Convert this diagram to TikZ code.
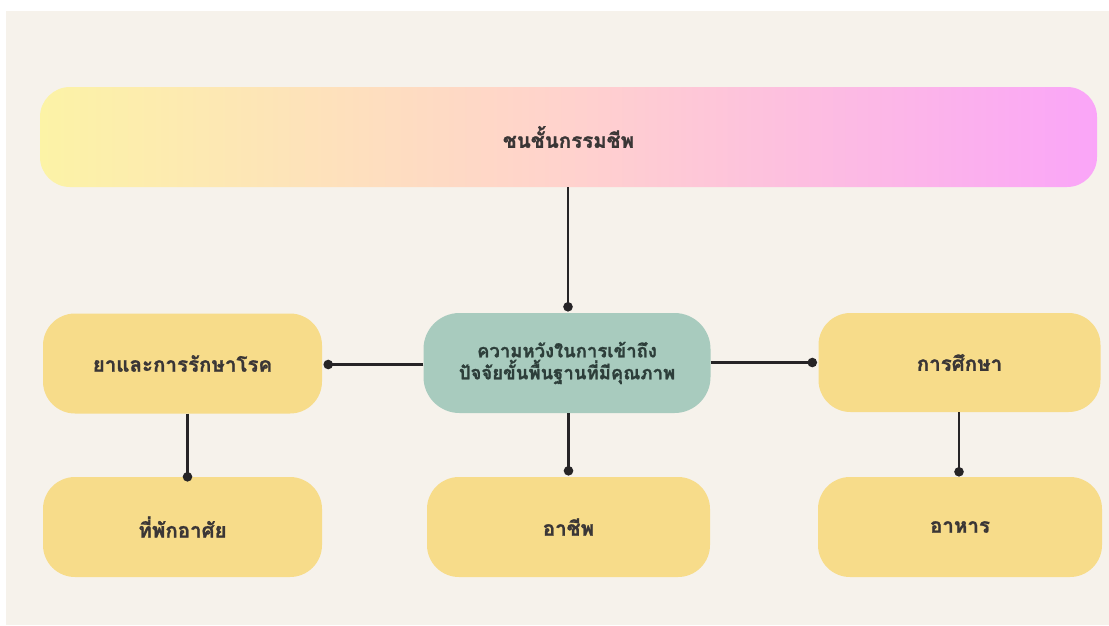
\documentclass[tikz,border=0pt]{standalone}
\usepackage{fontspec}
\newfontfamily\thai[Script=Thai,BoldFeatures={FakeBold=1.2}]{Loma}
\usetikzlibrary{arrows.meta}
\definecolor{cream}{RGB}{246,242,235}
\definecolor{boxyellow}{RGB}{247,220,138}
\definecolor{teal}{RGB}{168,203,190}
\definecolor{txt}{RGB}{58,54,54}
\definecolor{linec}{RGB}{38,36,38}
\definecolor{gleft}{RGB}{252,243,166}
\definecolor{gmid}{RGB}{255,210,205}
\definecolor{gright}{RGB}{250,165,248}
\tikzset{
  boxnode/.style={rounded corners=32pt, minimum width=280pt, minimum height=100pt, fill=boxyellow, font=\thai\bfseries\fontsize{20.5}{24}\selectfont, text=txt, inner sep=0pt},
  conn/.style={draw=linec, line width=2.6pt},
  dotc/.style={fill=linec}
}
\begin{document}
\begin{tikzpicture}[x=1pt,y=-1pt]
\useasboundingbox (0,0) rectangle (1109,625);
\fill[white] (0,0) rectangle (1109,625);
\fill[cream] (6,11) rectangle (1109,625);
\node[rounded corners=30pt, minimum width=1057pt, minimum height=100pt, left color=gleft, right color=gright, middle color=gmid, font=\thai\bfseries\fontsize{20.5}{24}\selectfont, text=txt, inner sep=0pt] (top) at (568.5,137) {ชนชั้นกรรมชีพ};
\node[boxnode, fill=teal, minimum width=287pt, rounded corners=36pt, align=center, font=\thai\bfseries\fontsize{18.5}{22}\selectfont, text={rgb,255:red,45;green,62;blue,58}] (center) at (567,363) {ความหวังในการเข้าถึง\\ปัจจัยขั้นพื้นฐานที่มีคุณภาพ};
\node[boxnode, minimum width=279pt] (l1) at (182.5,363.5) {ยาและการรักษาโรค};
\node[boxnode, minimum width=279pt] (l2) at (182.5,527) {ที่พักอาศัย};
\node[boxnode, minimum width=283pt] (c2) at (568.5,527) {อาชีพ};
\node[boxnode, minimum width=282pt, minimum height=99pt] (r1) at (959.5,362.5) {การศึกษา};
\node[boxnode, minimum width=284pt] (r2) at (960,527) {อาหาร};
\coordinate (dtop) at ([xshift=1pt,yshift=6pt]center.north);
\coordinate (dleft) at ([xshift=6pt,yshift=-1pt]l1.east);
\coordinate (dright) at ([xshift=-6pt]r1.west);
\coordinate (dbot) at ([yshift=6pt]c2.north);
\coordinate (dl) at ([xshift=5pt]l2.north);
\coordinate (dr) at ([xshift=-1pt,yshift=5pt]r2.north);
\draw[conn] (top.south -| dtop) -- (dtop);
\draw[conn] (center.west |- dleft) -- (dleft);
\draw[conn] (center.east |- dright) -- (dright);
\draw[conn] (center.south -| dbot) -- (dbot);
\draw[conn] (l1.south -| dl) -- (dl);
\draw[conn] (r1.south -| dr) -- (dr);
\foreach \d in {dtop,dleft,dright,dbot,dl,dr} \fill[dotc] (\d) circle (4.8pt);
\end{tikzpicture}
\end{document}
